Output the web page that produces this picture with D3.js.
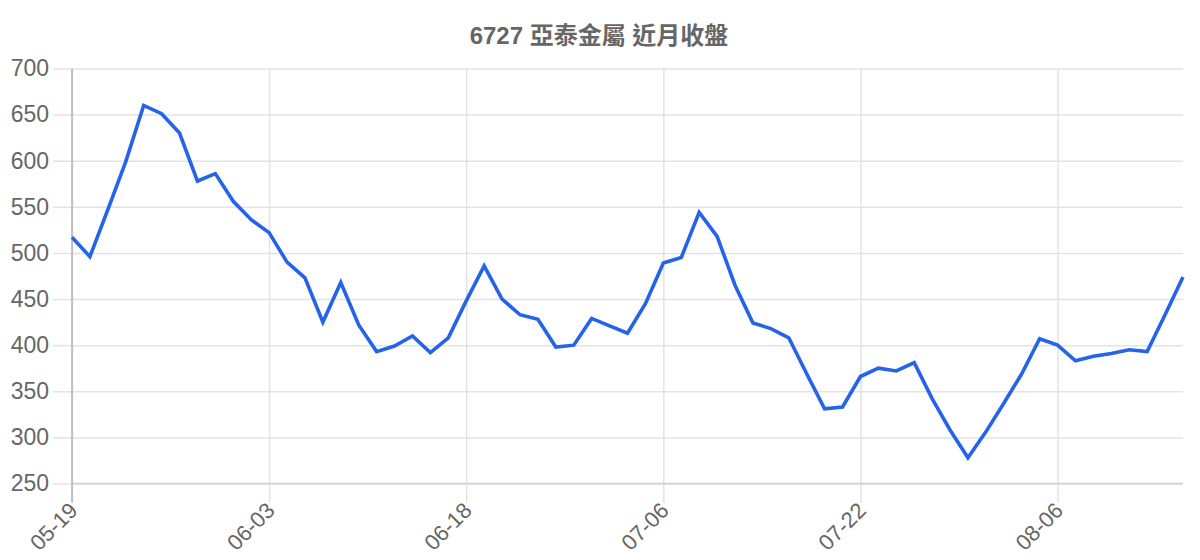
<!DOCTYPE html>
<html>
<head>
<meta charset="utf-8">
<script src="https://cdn.jsdelivr.net/npm/d3@7"></script>
<style>
  html, body { margin: 0; padding: 0; background: #fff; }
  #chart { width: 1200px; height: 560px; }
</style>
</head>
<body>
<div id="chart"></div>
<script>
// ---- Data ------------------------------------------------------------------
const title = "6727 亞泰金屬 近月收盤";
const dates = [
  "05-19", "05-20", "05-21", "05-22", "05-23", "05-26", "05-27", "05-28", "05-29", "05-30",
  "06-02", "06-03", "06-04", "06-05", "06-06", "06-09", "06-10", "06-11", "06-12", "06-13",
  "06-16", "06-17", "06-18", "06-19", "06-20", "06-23", "06-24", "06-25", "06-26", "06-27",
  "06-30", "07-01", "07-02", "07-06", "07-07", "07-08", "07-09", "07-10", "07-11", "07-14",
  "07-15", "07-16", "07-17", "07-18", "07-22", "07-23", "07-24", "07-25", "07-28", "07-29",
  "07-30", "07-31", "08-01", "08-04", "08-05", "08-06", "08-07", "08-08", "08-11", "08-12",
  "08-13", "08-14", "08-15"
];
const closes = [
  517, 496, 547, 599, 660, 651, 630, 578, 586, 556,
  536, 522, 490, 473, 425, 468, 422, 393, 399, 410,
  392, 408, 448, 486, 450, 433, 428, 398, 400, 429,
  421, 413, 445, 489, 495, 544, 518, 465, 424, 418,
  408, 369, 331, 333, 366, 375, 372, 381, 342, 308,
  278, 306, 337, 369, 407, 400, 383, 388, 391, 395,
  393, 433, 474
];
const xTickLabels = ["05-19", "06-03", "06-18", "07-06", "07-22", "08-06"];
const yTicks = [250, 300, 350, 400, 450, 500, 550, 600, 650, 700];

(function () {
  const W = 1200, H = 560;
  const L = 72, R = 1183, T = 68.5, B = 483.5;
  const TICK = 19;
  const FONT = '"Liberation Sans", Arial, Helvetica, sans-serif';
  const COL = { text: "#666", grid: "#e3e3e3", axis: "#b3b3b3", base: "#cfcfcf", line: "#2563eb" };

  const svg = d3.select("#chart").append("svg")
    .attr("width", W).attr("height", H)
    .attr("viewBox", `0 0 ${W} ${H}`);

  const x = d3.scalePoint().domain(dates).range([L, R]);
  const y = d3.scaleLinear().domain([250, 700]).range([B, T]);

  // ---- Grid ----------------------------------------------------------------
  svg.append("g")
    .attr("transform", `translate(${L},0)`)
    .call(d3.axisLeft(y).tickValues(yTicks).tickSize(-(R - L)).tickFormat(""))
    .call((g) => g.select(".domain").remove())
    .call((g) => g.selectAll("line").attr("stroke", COL.grid).attr("stroke-width", 1.5));

  svg.append("g")
    .attr("transform", `translate(0,${B})`)
    .call(d3.axisBottom(x).tickValues(xTickLabels).tickSize(-(B - T)).tickFormat(""))
    .call((g) => g.select(".domain").remove())
    .call((g) => g.selectAll("line").attr("stroke", COL.grid).attr("stroke-width", 1.5));

  // ---- Y axis --------------------------------------------------------------
  const yAxis = svg.append("g")
    .attr("transform", `translate(${L},0)`)
    .call(d3.axisLeft(y).tickValues(yTicks).tickSize(TICK).tickPadding(4));
  yAxis.select(".domain").remove();
  yAxis.selectAll("line").attr("stroke", COL.grid).attr("stroke-width", 1.5);
  yAxis.selectAll("text")
    .attr("fill", COL.text)
    .style("font", `23px ${FONT}`);

  // ---- X axis --------------------------------------------------------------
  const xAxis = svg.append("g")
    .attr("transform", `translate(0,${B})`)
    .call(d3.axisBottom(x).tickValues(xTickLabels).tickSize(TICK));
  xAxis.select(".domain").remove();
  xAxis.selectAll("line").attr("stroke", COL.grid).attr("stroke-width", 1.5);
  xAxis.selectAll("text")
    .attr("y", 0).attr("dy", "0.35em")
    .attr("transform", "translate(1,23) rotate(-45)")
    .attr("text-anchor", "end")
    .attr("fill", COL.text)
    .style("font", `22px ${FONT}`);

  // axis borders: darker left line, softer baseline
  svg.append("line")
    .attr("x1", L).attr("x2", R).attr("y1", B).attr("y2", B)
    .attr("stroke", COL.base).attr("stroke-width", 1.5);
  svg.append("line")
    .attr("x1", L).attr("x2", L).attr("y1", T).attr("y2", B + TICK)
    .attr("stroke", COL.axis).attr("stroke-width", 1.5);

  // ---- Line ----------------------------------------------------------------
  const line = d3.line()
    .x((d, i) => x(dates[i]))
    .y((d) => y(d));
  svg.append("path")
    .datum(closes)
    .attr("d", line)
    .attr("fill", "none")
    .attr("stroke", COL.line)
    .attr("stroke-width", 3.6)
    .attr("stroke-linejoin", "miter");

  // ---- Title ---------------------------------------------------------------
  svg.append("text")
    .attr("x", 599).attr("y", 44)
    .attr("text-anchor", "middle")
    .attr("fill", COL.text)
    .style("font", `bold 24px "Liberation Sans", Arial, "Noto Sans CJK TC", sans-serif`)
    .text(title);
})();
</script>
</body>
</html>
